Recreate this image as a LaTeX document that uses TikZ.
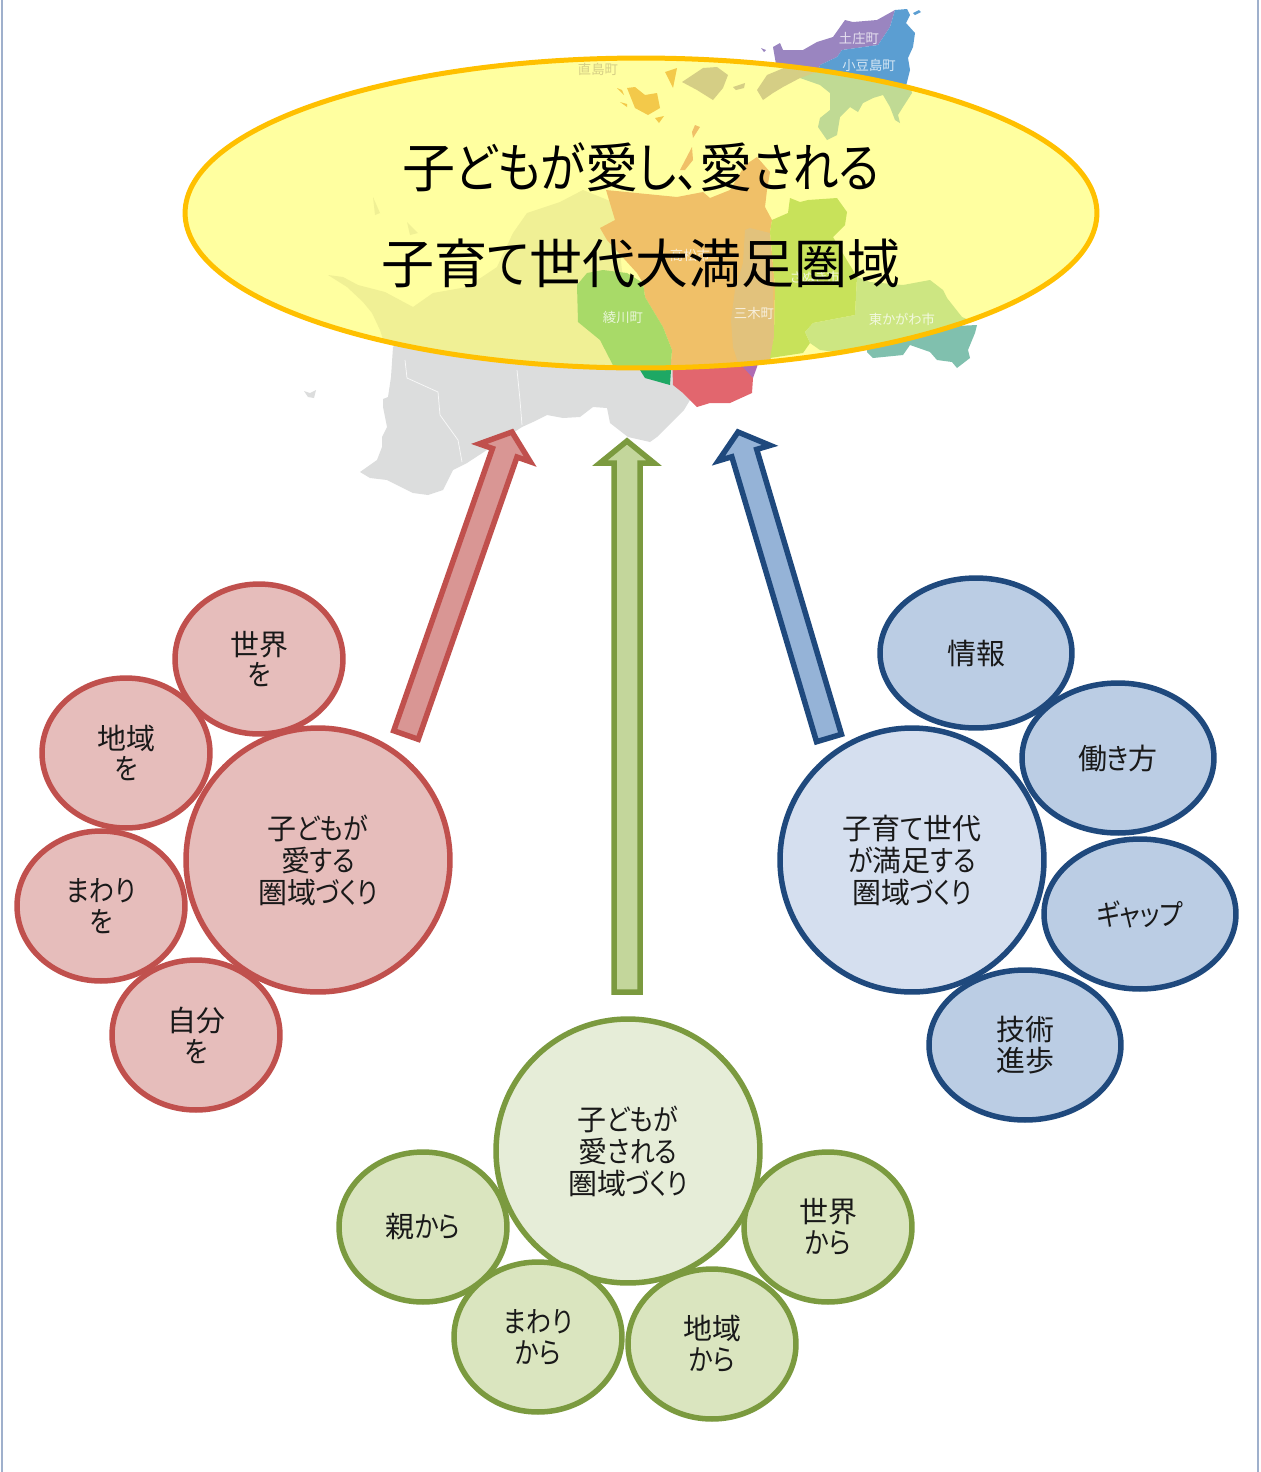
\documentclass[tikz,border=0pt]{standalone}
\usepackage{fontspec}
\setmainfont[RawFeature=+palt]{Noto Sans CJK JP}
\newfontfamily\kanafont[RawFeature=+palt,FakeStretch=.86]{Noto Sans CJK JP}
\newcommand{\kn}[1]{{\kanafont #1}}
\usetikzlibrary{calc,shapes.geometric}

\definecolor{redline}{HTML}{C0504D}
\definecolor{redpale}{HTML}{E6BDBB}
\definecolor{redarrow}{HTML}{D99694}
\definecolor{greenline}{HTML}{7B9A3F}
\definecolor{greenbig}{HTML}{E6EDD8}
\definecolor{greenpale}{HTML}{DAE5BF}
\definecolor{greenarrow}{HTML}{C3D69B}
\definecolor{blueline}{HTML}{1F497D}
\definecolor{bluebig}{HTML}{D5DFEF}
\definecolor{bluepale}{HTML}{BBCDE4}
\definecolor{bluearrow}{HTML}{95B3D7}
\definecolor{mainyellow}{HTML}{FFFFA0}
\definecolor{mainring}{HTML}{FFC000}
\definecolor{borderblue}{HTML}{9FB0CC}
\definecolor{landtint}{HTML}{F0F095}
\definecolor{landgrey}{HTML}{DCDDDD}
\definecolor{maporange}{HTML}{F0C068}
\definecolor{mapmiki}{HTML}{E2C27C}
\definecolor{mapsanuki}{HTML}{C8E25A}
\definecolor{mapeast}{HTML}{CDE682}
\definecolor{mapaya}{HTML}{A8DA68}
\definecolor{mapsage}{HTML}{C0DA94}
\definecolor{mapolive}{HTML}{D5CE85}
\definecolor{mapnao}{HTML}{F3C94A}
\definecolor{mapred}{HTML}{E2666E}
\definecolor{mapdark}{HTML}{1EA864}
\definecolor{mappurple}{HTML}{AE6CB4}
\definecolor{mapteal}{HTML}{80C0AE}
\definecolor{maptono}{HTML}{9A85C0}
\definecolor{mapshodo}{HTML}{5B9ED2}

\tikzset{
  bubble/.style={draw,ellipse,line width=.11cm,inner sep=0pt,align=center,text=black!90},
  smalltext/.style={font=\fontsize{16.5}{17.6}\selectfont},
  bigtext/.style={font=\fontsize{16.5}{18.2}\selectfont},
  maptext/.style={font=\fontsize{7.6}{9}\selectfont,text=white,text opacity=.75,inner sep=0pt},
  redbig/.style={bubble,bigtext,draw=redline,fill=redpale,minimum width=5.28cm,minimum height=5.28cm},
  redsmall/.style={bubble,smalltext,draw=redline,fill=redpale,minimum width=3.36cm,minimum height=3cm},
  greenbig/.style={bubble,bigtext,draw=greenline,fill=greenbig,minimum width=5.28cm,minimum height=5.28cm},
  greensmall/.style={bubble,smalltext,draw=greenline,fill=greenpale,minimum width=3.36cm,minimum height=3cm},
  bluebig/.style={bubble,bigtext,draw=blueline,fill=bluebig,minimum width=5.28cm,minimum height=5.28cm},
  bluesmall/.style={bubble,smalltext,draw=blueline,fill=bluepale,minimum width=3.84cm,minimum height=3cm},
}

% block arrow from #2 to #3
\newcommand{\blockarrow}[3]{
\coordinate (neck) at ($(#3)!.44cm!(#2)$);
\draw[line width=.11cm,#1] (#3)
  -- ($(neck)!.54cm!90:(#3)$) -- ($(neck)!.26cm!90:(#3)$)
  -- ($(#2)!.26cm!90:(#3)$) -- ($(#2)!.26cm!-90:(#3)$)
  -- ($(neck)!.26cm!-90:(#3)$) -- ($(neck)!.54cm!-90:(#3)$) -- cycle;
}

\begin{document}
\begin{tikzpicture}[x=.02cm,y=-.02cm]
\useasboundingbox (0,0) rectangle (1261,1472);
\draw[borderblue,line width=.03cm] (2,0) -- (2,1472);
\draw[borderblue,line width=.03cm] (1258,0) -- (1258,1472);

% map, the parts that stick out of the ellipse
\fill[landgrey] (393,347) -- (391,377) -- (388,397) -- (383,399) -- (383,407) -- (387,427) -- (382,437) -- (382,447) -- (377,460) -- (360,472) -- (370,478) -- (387,480) -- (413,493) -- (428,495) -- (443,490) -- (453,470) -- (467,463) -- (522,427) -- (533,422) -- (547,415) -- (563,418) -- (580,417) -- (593,407) -- (607,408) -- (610,423) -- (628,437) -- (650,442) -- (657,437) -- (684,410) -- (690,400) -- (675,385) -- (672,350) -- (400,340) -- cycle;
\fill[landgrey] (304,391) -- (310,393) -- (316,390) -- (314,398) -- (308,397) -- cycle;
\draw[white!80!landgrey,line width=.015cm] (405,360) -- (407,378) -- (438,392) -- (440,415) -- (458,440) -- (462,462);
\draw[white!80!landgrey,line width=.015cm] (517,370) -- (520,400) -- (522,425);
\fill[mapred] (672,355) -- (673,385) -- (683,393) -- (697,407) -- (710,403) -- (730,403) -- (752,393) -- (753,378) -- (743,355) -- cycle;
\fill[mapdark] (640,355) -- (640,370) -- (645,378) -- (670,385) -- (672,355) -- cycle;
\fill[mappurple] (743,355) -- (743,367) -- (753,378) -- (757,367) -- (760,355) -- cycle;
\fill[mapteal] (870,330) -- (977,325) -- (975,333) -- (968,350) -- (970,358) -- (957,368) -- (952,362) -- (937,360) -- (930,352) -- (910,345) -- (903,355) -- (873,358) -- (867,352) -- cycle;
\fill[maptono] (773,47) -- (780,43) -- (783,50) -- (803,50) -- (817,42) -- (833,37) -- (845,20) -- (853,22) -- (877,20) -- (895,10) -- (890,27) -- (878,45) -- (842,50) -- (837,57) -- (820,65) -- (815,80) -- (777,70) -- cycle;
\fill[mapshodo] (895,10) -- (907,9) -- (910,15) -- (906,23) -- (915,33) -- (913,47) -- (908,58) -- (910,70) -- (905,90) -- (815,80) -- (820,65) -- (837,57) -- (842,50) -- (878,45) -- (890,27) -- cycle;
\fill[mapshodo] (913,13) -- (919,10) -- (921,12) -- (915,15) -- cycle;
\fill[maptono] (761,48) -- (766,50) -- (764,52) -- cycle;

% ellipse and the parts of the map under it
\fill[mainyellow] (641,213) ellipse [x radius=9.12cm,y radius=3.1cm];
\begin{scope}
\clip (641,213) ellipse [x radius=9.12cm,y radius=3.1cm];
\fill[landtint] (393,370) -- (380,330) -- (372,313) -- (363,302) -- (347,287) -- (328,275) -- (343,277) -- (358,285) -- (385,292) -- (413,307) -- (433,293) -- (467,287) -- (497,267) -- (513,233) -- (527,213) -- (560,202) -- (583,190) -- (615,203) -- (625,300) -- (680,375) -- cycle;
\fill[landtint] (373,197) -- (380,213) -- (375,215) -- cycle;
\fill[landtint] (407,222) -- (418,233) -- (410,235) -- cycle;
\fill[maporange] (606,190) -- (677,197) -- (703,192) -- (710,198) -- (730,190) -- (745,165) -- (757,157) -- (770,172) -- (767,190) -- (765,207) -- (772,220) -- (770,232) -- (775,287) -- (774,337) -- (768,375) -- (670,375) -- (672,350) -- (663,327) -- (645,297) -- (643,283) -- (637,273) -- (607,240) -- (600,228) -- (615,220) -- cycle;
\fill[mapmiki] (745,230) -- (750,228) -- (770,233) -- (773,287) -- (774,337) -- (768,375) -- (742,375) -- (733,347) -- (731,320) -- (735,290) -- (743,263) -- cycle;
\fill[mapsanuki] (770,232) -- (772,220) -- (788,213) -- (790,198) -- (800,202) -- (808,200) -- (837,198) -- (847,212) -- (845,225) -- (833,237) -- (857,277) -- (855,315) -- (813,323) -- (805,332) -- (810,343) -- (803,353) -- (770,358) -- (774,337) -- (775,287) -- cycle;
\fill[mapeast] (857,277) -- (870,282) -- (903,285) -- (930,280) -- (943,290) -- (947,298) -- (962,317) -- (980,325) -- (900,360) -- (820,350) -- (810,343) -- (805,332) -- (813,323) -- (855,315) -- cycle;
\fill[mapaya] (577,285) -- (587,273) -- (603,270) -- (627,273) -- (643,283) -- (645,297) -- (663,327) -- (672,350) -- (670,375) -- (618,375) -- (600,340) -- (578,322) -- cycle;
\fill[mapsage] (800,78) -- (810,65) -- (907,75) -- (912,93) -- (903,107) -- (898,115) -- (900,123) -- (895,120) -- (890,107) -- (883,95) -- (873,98) -- (863,103) -- (858,112) -- (850,107) -- (840,117) -- (837,135) -- (827,140) -- (818,127) -- (820,118) -- (830,110) -- (830,93) -- (820,85) -- cycle;
\fill[mapolive] (682,82) -- (703,68) -- (717,67) -- (728,75) -- (723,88) -- (713,100) -- (697,90) -- cycle;
\fill[mapolive] (757,90) -- (767,75) -- (803,60) -- (830,67) -- (800,78) -- (783,87) -- (773,93) -- (763,100) -- cycle;
\fill[mapolive] (733,87) -- (745,83) -- (744,88) -- (736,90) -- cycle;
\fill[mapnao] (627,88) -- (635,87) -- (645,95) -- (657,93) -- (660,108) -- (648,115) -- (635,108) -- cycle;
\fill[mapnao] (665,72) -- (677,68) -- (673,88) -- cycle;
\fill[mapnao] (655,118) -- (664,116) -- (659,123) -- cycle;
\fill[mapnao] (617,88) -- (622,90) -- (624,95) -- cycle;
\fill[mapnao] (620,102) -- (627,104) -- (627,107) -- cycle;
\fill[maporange] (695,125) -- (700,127) -- (693,138) -- (692,132) -- cycle;
\fill[maporange] (692,147) -- (680,170) -- (685,170) -- (693,160) -- cycle;
\end{scope}

% map names
\node[maptext] (tonosho) at (859,38) {土庄町};
\node[maptext] (shodoshima) at (869,65) {小豆島町};
\node[maptext,text=mapolive,text opacity=1] (naoshima) at (598,69) {直島町};
\node[maptext] (ayagawa) at (623,317) {綾川町};
\node[maptext] (miki) at (754,313) {三木町};
\node[maptext] (higashikagawa) at (902,319) {東かがわ市};
\node[maptext] (takamatsu) at (690,255) {高松市};
\node[maptext] (sanuki) at (815,277) {さぬき市};

\draw[mainring,line width=.1cm] (641,213) ellipse [x radius=9.12cm,y radius=3.1cm];
\node[inner sep=0pt,align=center,font=\fontsize{30.2}{54.6}\selectfont] (goal) at (641,215) {子\kn{どもが}愛\kn{し、}愛\kn{される}\\子育\kn{て}世代大満足圏域};

% left group
\node[redsmall] (redworld) at (259,659) {世界\\\kn{を}};
\node[redsmall] (redregion) at (126,753) {地域\\\kn{を}};
\node[redsmall] (redaround) at (101,906) {\kn{まわり}\\\kn{を}};
\node[redbig] (redmain) at (318,860) {子\kn{どもが}\\愛\kn{する}\\圏域\kn{づくり}};
\node[redsmall] (redself) at (196,1035) {自分\\\kn{を}};

% right group
\node[bluesmall] (blueinfo) at (976,653) {情報};
\node[bluesmall] (bluework) at (1118,758) {働\kn{き}方};
\node[bluesmall] (bluegap) at (1140,914) {\kn{ギャップ}};
\node[bluesmall] (bluetech) at (1025,1045) {技術\\進歩};
\node[bluebig] (bluemain) at (912,860) {子育\kn{て}世代\\\kn{が}満足\kn{する}\\圏域\kn{づくり}};

% bottom group
\node[greensmall] (greenparent) at (423,1227) {親\kn{から}};
\node[greensmall] (greenworld) at (828,1227) {世界\\\kn{から}};
\node[greenbig] (greenmain) at (628,1151) {子\kn{どもが}\\愛\kn{される}\\圏域\kn{づくり}};
\node[greensmall] (greenaround) at (538,1337) {\kn{まわり}\\\kn{から}};
\node[greensmall] (greenregion) at (712,1344) {地域\\\kn{から}};

% arrows
\coordinate (redfoot) at (406,735);
\coordinate (redtip) at (512,432);
\coordinate (greenfoot) at (627,992);
\coordinate (greentip) at (627,441);
\coordinate (bluefoot) at (829,738);
\coordinate (bluetip) at (738,432);
\blockarrow{draw=redline,fill=redarrow}{redfoot}{redtip}
\blockarrow{draw=greenline,fill=greenarrow}{greenfoot}{greentip}
\blockarrow{draw=blueline,fill=bluearrow}{bluefoot}{bluetip}
\end{tikzpicture}
\end{document}
